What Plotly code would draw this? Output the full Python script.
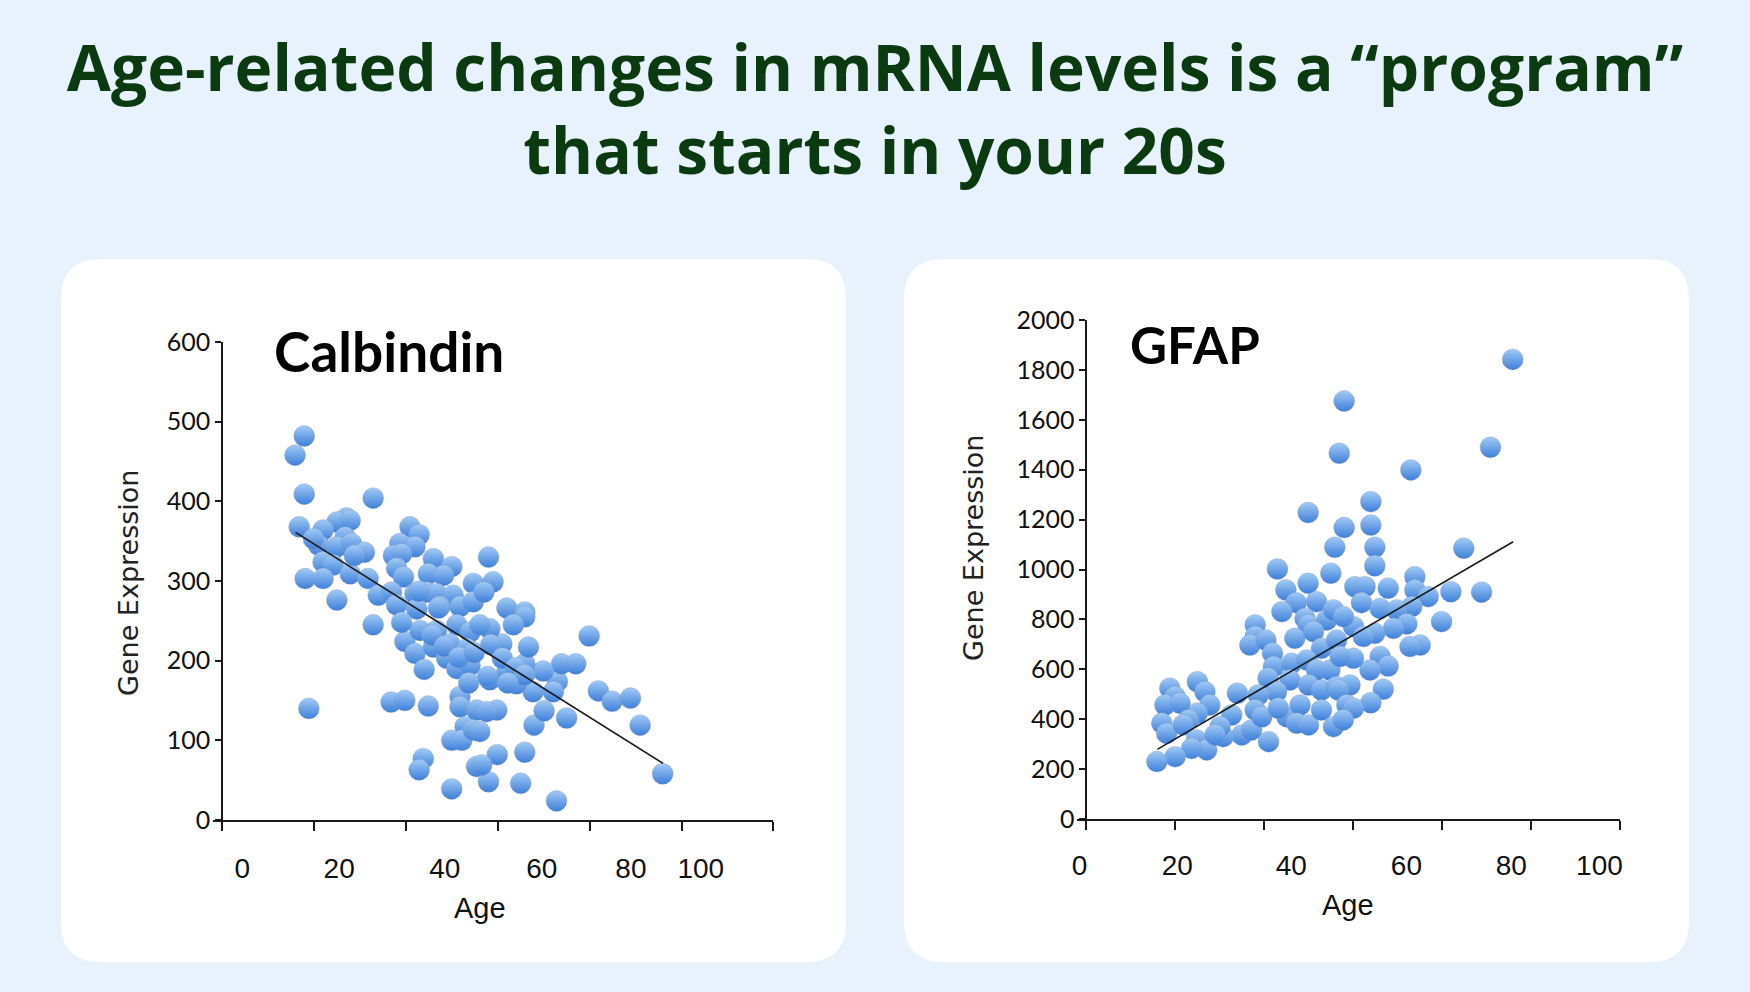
import plotly.graph_objects as go

W, H = 1750, 992

# ---------------- data ----------------
calb_age = [17.9, 15.9, 17.9, 32.9, 16.8, 27.1, 25.0, 27.9, 22.0, 21.0, 26.8, 25.0, 28.2, 31.0, 19.9,
            22.0, 24.2, 27.9, 31.8, 18.1, 22.0, 25.0, 28.8, 40.9, 42.9, 38.7, 42.0, 37.3, 39.1, 38.0,
            39.5, 46.0, 50.0, 44.9, 48.2, 34.0, 36.9, 38.0, 42.0, 44.5, 46.7, 50.3, 54.7, 42.4, 47.4,
            51.8, 54.7, 58.0, 59.0, 57.0, 62.0, 65.9, 32.9, 39.8, 42.0, 43.1, 46.0, 48.9, 51.1, 54.0,
            46.7, 51.1, 54.0, 49.6, 53.3, 18.9, 36.8, 39.8, 44.9, 51.8, 51.8, 52.9, 50.0, 52.2, 55.4,
            43.8, 42.9, 50.0, 55.4, 54.7, 79.9, 81.9, 84.9, 88.9, 91.0, 95.9, 72.8, 65.0, 65.9, 59.9,
            58.0, 56.5, 67.9, 70.1, 75.0, 73.0, 73.9, 77.0, 69.9, 67.7, 72.1, 59.8, 57.6, 65.9, 66.7,
            60.9, 58.3, 65.9, 63.4, 64.1, 58.3, 62.0, 56.1, 45.7, 48.4, 51.5, 54.9, 58.5, 61.0, 63.9,
            57.8, 53.7, 65.8, 62.2, 44.0, 47.1, 42.8, 39.1, 56.1]
calb_val = [482, 458, 409, 404, 368, 379, 374, 376, 364, 345, 355, 343, 347, 336, 353,
            324, 320, 309, 303, 303, 303, 276, 332, 368, 358, 347, 343, 332, 334, 316,
            305, 328, 318, 309, 307, 282, 286, 270, 284, 286, 284, 282, 297, 265, 268,
            268, 274, 330, 299, 286, 266, 261, 245, 224, 209, 238, 217, 203, 190, 194,
            238, 245, 236, 221, 215, 140, 148, 150, 143, 155, 142, 117, 100, 100, 138,
            77, 63, 39, 67, 113, 231, 162, 149, 153, 119, 58, 24, 46, 85, 82,
            48, 69, 119, 137, 128, 174, 196, 196, 187, 161, 161, 138, 136, 196, 217,
            221, 240, 255, 245, 171, 176, 186, 111, 232, 218, 204, 210, 220, 203, 191,
            180, 172, 182, 172, 189, 266, 287, 248, 245]
calb_trend_age = [16, 96]
calb_trend_val = [361, 71]

gfap_age = [95.9, 58.0, 56.9, 90.9, 73.0, 49.9, 64.0, 58.0, 64.0, 55.9, 64.9, 84.9, 43.0, 55.0, 64.9,
            44.9, 49.9, 47.2, 51.8, 44.0, 49.2, 49.9, 54.1, 55.6, 38.0, 38.0, 36.8, 40.4, 46.9, 51.1,
            52.9, 56.3, 41.9, 42.1, 40.9, 46.2, 49.6, 51.8, 54.8, 45.8, 50.0, 52.9, 56.3, 42.8, 38.7,
            34.0, 38.0, 35.0, 37.2, 41.0, 39.5, 45.1, 48.1, 47.3, 50.0, 52.9, 55.6, 43.2, 30.8, 32.7,
            25.0, 26.7, 27.8, 25.0, 18.8, 20.0, 17.7, 21.1, 23.0, 17.0, 18.1, 21.8, 24.8, 27.1, 23.7,
            20.0, 15.9, 30.1, 29.0, 73.9, 60.4, 62.7, 67.9, 73.9, 82.0, 88.9, 61.9, 66.1, 76.9, 73.2,
            69.8, 79.9, 72.1, 69.1, 64.9, 60.1, 57.8, 62.3, 75.1, 72.8, 66.1, 67.9, 63.8, 60.1, 57.1,
            59.3, 66.8, 56.7, 58.6, 64.0, 60.1, 57.8]
gfap_val = [1842, 1675, 1466, 1490, 1399, 1228, 1272, 1168, 1178, 1089, 1089, 1085, 1002, 985, 1015,
            918, 945, 867, 871, 831, 804, 778, 798, 838, 778, 731, 697, 717, 724, 751,
            684, 717, 664, 610, 564, 624, 637, 597, 597, 557, 537, 517, 530, 510, 497,
            504, 437, 337, 357, 310, 410, 410, 457, 384, 377, 437, 370, 444, 330, 417,
            550, 510, 457, 424, 524, 490, 457, 464, 397, 384, 343, 377, 317, 277, 283,
            250, 230, 370, 337, 971, 931, 931, 925, 918, 911, 909, 867, 844, 891, 851,
            838, 791, 782, 764, 744, 771, 811, 731, 697, 691, 651, 613, 597, 644, 651,
            537, 520, 517, 457, 466, 444, 397]
gfap_trend_age = [16, 96]
gfap_trend_val = [279, 1111]

# tick labels (as placed in the original picture) and tick marks
calb_label_pos = [4.4, 25.5, 48.5, 69.6, 89.0, 104.2]
gfap_label_pos = [-1.5, 20.5, 46.1, 72.0, 95.6, 115.4]
age_labels = ["0", "20", "40", "60", "80", "100"]
age_tick_marks = [0, 20, 40, 60, 80, 100, 120]

title_text = "Age-related changes in mRNA levels is a “program”<br>that starts in your 20s"

# ---------------- helpers ----------------
def px_x(p):
    return p / W

def px_y(p):
    return 1 - p / H

def rounded_rect(x0, y0, x1, y1, r):
    X, Y = px_x, px_y
    return (f"M {X(x0 + r)},{Y(y0)} L {X(x1 - r)},{Y(y0)} "
            f"Q {X(x1)},{Y(y0)} {X(x1)},{Y(y0 + r)} L {X(x1)},{Y(y1 - r)} "
            f"Q {X(x1)},{Y(y1)} {X(x1 - r)},{Y(y1)} L {X(x0 + r)},{Y(y1)} "
            f"Q {X(x0)},{Y(y1)} {X(x0)},{Y(y1 - r)} L {X(x0)},{Y(y0 + r)} "
            f"Q {X(x0)},{Y(y0)} {X(x0 + r)},{Y(y0)} Z")

marker_style = dict(size=21, color="#a3cbf6",
                    gradient=dict(type="vertical", color="#3c7fda"),
                    line=dict(width=0.6, color="rgba(140,150,170,0.55)"))

fig = go.Figure()
fig.add_trace(go.Scatter(x=calb_age, y=calb_val, mode="markers", marker=marker_style,
                         xaxis="x", yaxis="y", hoverinfo="x+y"))
fig.add_trace(go.Scatter(x=calb_trend_age, y=calb_trend_val, mode="lines",
                         line=dict(color="#1a1a1a", width=1.6), xaxis="x", yaxis="y"))
fig.add_trace(go.Scatter(x=gfap_age, y=gfap_val, mode="markers", marker=marker_style,
                         xaxis="x2", yaxis="y2", hoverinfo="x+y"))
fig.add_trace(go.Scatter(x=gfap_trend_age, y=gfap_trend_val, mode="lines",
                         line=dict(color="#1a1a1a", width=1.6), xaxis="x2", yaxis="y2"))

axis_color = "#1a1a1a"
xtick_font = dict(family="Liberation Sans, Arial, sans-serif", size=28, color="#111111")
ytick_font = dict(family="Lato, sans-serif", size=25, color="#111111")

def xaxis_cfg(domain, label_pos, standoff):
    return dict(domain=domain, range=[-2, 120], showgrid=False, zeroline=False,
                showline=True, linecolor=axis_color, linewidth=1.5,
                tickmode="array", tickvals=label_pos, ticktext=age_labels, ticks="",
                tickfont=xtick_font, ticklabelstandoff=standoff, automargin=False,
                minor=dict(tickmode="array", tickvals=age_tick_marks, ticks="outside",
                           ticklen=9, tickwidth=1.5, tickcolor=axis_color, showgrid=False))

def yaxis_cfg(domain, rng, dtick, position):
    return dict(domain=domain, range=rng, dtick=dtick, tick0=0, anchor="free",
                position=position, showgrid=False, zeroline=False, showline=True,
                linecolor=axis_color, linewidth=1.5, ticks="outside", ticklen=6,
                tickwidth=1.5, tickcolor=axis_color, tickfont=ytick_font, automargin=False)

fig.update_layout(
    width=W, height=H,
    margin=dict(l=0, r=0, t=0, b=0, autoexpand=False),
    paper_bgcolor="#e8f2fd",
    plot_bgcolor="rgba(0,0,0,0)",
    showlegend=False,
    title=dict(text=title_text, x=0.5, xanchor="center", y=px_y(91), yanchor="middle",
               font=dict(family="Open Sans, sans-serif", size=64, weight=700, color="#0c3a10")),
    xaxis=dict(anchor="y", **xaxis_cfg([px_x(212.8), px_x(773.4)], calb_label_pos, 23)),
    yaxis=yaxis_cfg([px_y(820), px_y(342)], [0, 600], 100, px_x(222)),
    xaxis2=dict(anchor="y2", **xaxis_cfg([px_x(1077.3), px_x(1619.9)], gfap_label_pos, 21)),
    yaxis2=yaxis_cfg([px_y(819), px_y(320)], [0, 2000], 200, px_x(1086.2)),
    shapes=[
        dict(type="path", xref="paper", yref="paper", layer="below",
             path=rounded_rect(61, 259, 846, 962, 40), fillcolor="white", line=dict(width=0)),
        dict(type="path", xref="paper", yref="paper", layer="below",
             path=rounded_rect(904, 259, 1689, 962, 40), fillcolor="white", line=dict(width=0)),
    ],
)

label_font = dict(family="DejaVu Sans, Verdana, sans-serif", size=27, color="#222222")
age_font = dict(family="Liberation Sans, Arial, sans-serif", size=29, color="#111111")
calb_title_font = dict(family="Lato, sans-serif", size=55, weight=700, color="#000000")
gfap_title_font = dict(family="Lato, sans-serif", size=51, weight=700, color="#000000")

annotations = [
    dict(text="Gene Expression", x=px_x(128), y=px_y(583), textangle=-90, font=label_font),
    dict(text="Gene Expression", x=px_x(973), y=px_y(548), textangle=-90, font=label_font),
    dict(text="Age", x=px_x(480), y=px_y(908), font=age_font),
    dict(text="Age", x=px_x(1348), y=px_y(905), font=age_font),
    dict(text="Calbindin", x=px_x(272), y=px_y(351), xanchor="left", font=calb_title_font),
    dict(text="GFAP", x=px_x(1128), y=px_y(344), xanchor="left", font=gfap_title_font),
]
for a in annotations:
    a.update(xref="paper", yref="paper", showarrow=False)
    a.setdefault("xanchor", "center")
    a.setdefault("yanchor", "middle")
fig.update_layout(annotations=annotations)

fig.write_html("out.html", config={"displayModeBar": False},
               post_script="document.body.style.margin='0';document.body.style.overflow='hidden';")
